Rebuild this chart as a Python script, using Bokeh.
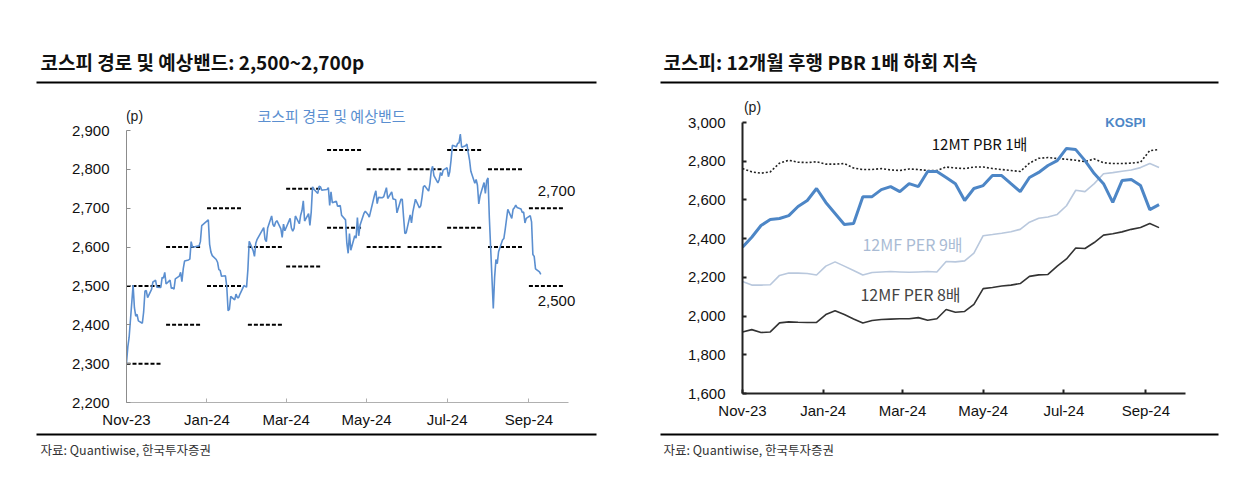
import pandas as pd
from bokeh.plotting import figure
from bokeh.models import (Label, FixedTicker, NumeralTickFormatter,
                          DatetimeTickFormatter, Range1d, ColumnDataSource)
from bokeh.core.properties import value
from bokeh.layouts import row, column
from bokeh.embed import file_html
from bokeh.resources import INLINE

# ---------------- data: left chart (daily KOSPI) ----------------
kospi_days = {
    "2023-11": [1, 2, 3, 6, 7, 8, 9, 10, 13, 14, 15, 16, 17, 20, 21, 22, 23, 24, 27, 28, 29, 30],
    "2023-12": [1, 4, 5, 6, 7, 8, 11, 12, 13, 14, 15, 18, 19, 20, 21, 22, 26, 27, 28],
    "2024-01": [2, 3, 4, 5, 8, 9, 10, 11, 12, 15, 16, 17, 18, 19, 22, 23, 24, 25, 26, 29, 30, 31],
    "2024-02": [1, 2, 5, 6, 7, 8, 13, 14, 15, 16, 19, 20, 21, 22, 23, 26, 27, 28, 29],
    "2024-03": [4, 5, 6, 7, 8, 11, 12, 13, 14, 15, 18, 19, 20, 21, 22, 25, 26, 27, 28, 29],
    "2024-04": [1, 2, 3, 4, 5, 8, 9, 11, 12, 15, 16, 17, 18, 19, 22, 23, 24, 25, 26, 29, 30],
    "2024-05": [2, 3, 7, 8, 9, 10, 13, 14, 16, 17, 20, 21, 22, 23, 24, 27, 28, 29, 30, 31],
    "2024-06": [3, 4, 5, 7, 10, 11, 12, 13, 14, 17, 18, 19, 20, 21, 24, 25, 26, 27, 28],
    "2024-07": [1, 2, 3, 4, 5, 8, 9, 10, 11, 12, 15, 16, 17, 18, 19, 22, 23, 24, 25, 26, 29, 30, 31],
    "2024-08": [1, 2, 5, 6, 7, 8, 9, 12, 13, 14, 16, 19, 20, 21, 22, 23, 26, 27, 28, 29, 30],
    "2024-09": [2, 3, 4, 5, 6, 9, 10],
}
kospi_close = {
    "2023-11": [2302, 2343, 2368, 2502, 2444, 2422, 2427, 2410, 2404, 2433, 2487, 2488, 2470, 2491, 2510, 2512, 2515, 2497, 2496, 2522, 2520, 2535],
    "2023-12": [2505, 2515, 2494, 2495, 2492, 2518, 2525, 2535, 2511, 2544, 2564, 2567, 2569, 2614, 2600, 2600, 2603, 2614, 2655],
    "2024-01": [2670, 2607, 2587, 2578, 2568, 2561, 2542, 2540, 2525, 2526, 2498, 2436, 2440, 2473, 2464, 2479, 2470, 2470, 2479, 2501, 2499, 2497],
    "2024-02": [2542, 2615, 2591, 2576, 2610, 2620, 2650, 2620, 2614, 2649, 2680, 2658, 2653, 2664, 2668, 2647, 2625, 2659, 2642],
    "2024-03": [2674, 2649, 2641, 2648, 2680, 2660, 2682, 2694, 2719, 2667, 2686, 2656, 2690, 2755, 2749, 2738, 2757, 2755, 2746, 2747],
    "2024-04": [2748, 2753, 2707, 2742, 2714, 2718, 2705, 2707, 2682, 2670, 2610, 2584, 2635, 2592, 2629, 2623, 2676, 2629, 2656, 2687, 2692],
    "2024-05": [2684, 2677, 2734, 2745, 2712, 2728, 2727, 2730, 2753, 2725, 2742, 2724, 2723, 2722, 2688, 2723, 2723, 2677, 2635, 2637],
    "2024-06": [2683, 2662, 2690, 2723, 2701, 2706, 2728, 2755, 2758, 2744, 2764, 2797, 2808, 2784, 2765, 2774, 2792, 2784, 2798],
    "2024-07": [2804, 2781, 2794, 2824, 2862, 2858, 2867, 2868, 2891, 2857, 2861, 2865, 2843, 2824, 2795, 2764, 2774, 2759, 2711, 2732, 2766, 2738, 2771],
    "2024-08": [2778, 2676, 2442, 2522, 2568, 2557, 2588, 2618, 2622, 2645, 2697, 2674, 2697, 2701, 2708, 2702, 2698, 2689, 2690, 2662, 2674],
    "2024-09": [2681, 2665, 2581, 2576, 2544, 2536, 2530],
}

# expected band per month (start, end, low, high)
band_start = ["2023-11-01", "2023-12-01", "2024-01-01", "2024-02-01", "2024-03-01", "2024-04-01",
              "2024-05-01", "2024-06-01", "2024-07-01", "2024-08-01", "2024-09-01"]
band_end = ["2023-11-28", "2023-12-28", "2024-01-28", "2024-02-28", "2024-03-28", "2024-04-28",
            "2024-05-28", "2024-06-28", "2024-07-28", "2024-08-28", "2024-09-28"]
band_low = [2300, 2400, 2500, 2400, 2550, 2650, 2600, 2600, 2650, 2600, 2500]
band_high = [2500, 2600, 2700, 2600, 2750, 2850, 2800, 2800, 2850, 2800, 2700]

# ---------------- data: right chart (weekly) ----------------
week_start = "2023-11-01"
kospi_w = [2356, 2407, 2468, 2499, 2504, 2519, 2566, 2597, 2659, 2587, 2530, 2473, 2478, 2617, 2617, 2653,
           2669, 2643, 2684, 2669, 2747, 2747, 2716, 2684, 2597, 2659, 2674, 2726, 2726, 2684, 2643, 2716,
           2742, 2778, 2803, 2866, 2860, 2803, 2736, 2684, 2587, 2700, 2705, 2674, 2550, 2576]
pbr1_w = [2762, 2745, 2738, 2745, 2790, 2805, 2795, 2793, 2797, 2785, 2785, 2788, 2765, 2757, 2757, 2762,
          2755, 2752, 2760, 2757, 2752, 2752, 2770, 2765, 2762, 2770, 2770, 2762, 2757, 2752, 2747, 2790,
          2815, 2819, 2814, 2810, 2805, 2798, 2812, 2792, 2788, 2788, 2790, 2795, 2855, 2860]
per9_w = [2178, 2160, 2160, 2162, 2210, 2222, 2222, 2220, 2212, 2258, 2280, 2258, 2235, 2212, 2225, 2228,
          2230, 2228, 2226, 2228, 2230, 2228, 2282, 2280, 2285, 2325, 2415, 2421, 2428, 2436, 2448, 2485,
          2505, 2512, 2525, 2570, 2650, 2643, 2684, 2735, 2741, 2748, 2755, 2767, 2788, 2767]
per8_w = [1918, 1930, 1915, 1918, 1965, 1970, 1968, 1967, 1967, 2008, 2028, 2008, 1985, 1964, 1977, 1982,
          1984, 1986, 1986, 1992, 1978, 1986, 2034, 2020, 2024, 2060, 2142, 2148, 2155, 2160, 2168, 2205,
          2213, 2215, 2258, 2295, 2352, 2349, 2380, 2418, 2425, 2435, 2448, 2458, 2478, 2457]

tick_dates = ["2023-11-01", "2024-01-01", "2024-03-01", "2024-05-01", "2024-07-01", "2024-09-01"]
left_yticks = [2200, 2300, 2400, 2500, 2600, 2700, 2800, 2900]
right_yticks = [1600, 1800, 2000, 2200, 2400, 2600, 2800, 3000]

titles = ["코스피 경로 및 예상밴드: 2,500~2,700p", "코스피: 12개월 후행 PBR 1배 하회 지속"]
source_note = "자료: Quantiwise, 한국투자증권"

# ---------------- helpers ----------------
def ms(d):
    return pd.Timestamp(d).value // 10**6

KR = "Noto Sans CJK KR"
NUM = "Liberation Sans"
x_lo, x_hi = pd.Timestamp("2023-11-01"), pd.Timestamp("2024-10-01")

W_L, W_R = 620, 601          # canvas widths
TOP = 96                     # page y of chart row
ROW_BOTTOM = 30              # bottom border of charts


def lab(p, x, y, text, size, color="#222222", style="normal", font=KR, align="left"):
    p.add_layout(Label(x=x, y=y, x_units="canvas", y_units="canvas", text=text,
                       text_font=font, text_font_size=size, text_color=color,
                       text_font_style=style, text_align=align, text_baseline="middle"))


def style_axes(p, yticks, axis_color, width, xtick_color):
    p.xaxis.ticker = FixedTicker(ticks=[ms(d) for d in tick_dates])
    p.xaxis.formatter = DatetimeTickFormatter(days="%b-%y", months="%b-%y", years="%b-%y")
    p.yaxis.ticker = FixedTicker(ticks=yticks)
    p.yaxis.formatter = NumeralTickFormatter(format="0,0")
    p.yaxis.bounds = (yticks[0], yticks[-1])
    p.xaxis.bounds = (ms(x_lo), ms(x_hi))
    for ax in (p.xaxis, p.yaxis):
        ax.major_tick_in = 4
        ax.major_tick_out = 0
        ax.minor_tick_line_color = None
        ax.major_label_text_font = NUM
        ax.major_label_text_font_size = "15px"
        ax.major_label_text_color = "#111111"
        ax.axis_line_width = width
        ax.major_tick_line_width = width
    p.yaxis.axis_line_color = axis_color
    p.yaxis.major_tick_line_color = axis_color
    p.xaxis.axis_line_color = xtick_color
    p.xaxis.major_tick_line_color = xtick_color
    p.yaxis.major_label_standoff = 17
    p.xaxis.major_label_standoff = 8
    p.xgrid.visible = False
    p.ygrid.visible = False
    p.outline_line_color = None


# ---------------- header strip (titles + rules) ----------------
header = figure(width=W_L + W_R, height=TOP, x_range=Range1d(0, W_L + W_R), y_range=Range1d(TOP, 0),
                output_backend="svg", toolbar_location=None, min_border=0)
header.axis.visible = False
header.grid.visible = False
header.outline_line_color = None
header.text(x=[40, 663], y=[61, 61], text=titles, text_font=value(KR), text_font_size="19px",
            text_font_style="bold", text_color="#111111", text_baseline="middle")
header.segment(x0=[36, 660], x1=[596, 1218], y0=[82, 82], y1=[82, 82], line_color="black", line_width=2)

# ---------------- left chart ----------------
dates, closes = [], []
for m in kospi_days:
    dates += [pd.Timestamp(f"{m}-{d:02d}") for d in kospi_days[m]]
    closes += kospi_close[m]

L_frame_w, L_axis_w = 474, 442
L_frame_h, L_axis_h = 306, 272
left_x_end = x_lo + (x_hi - x_lo) * L_frame_w / L_axis_w
left_y_end = left_yticks[0] + (left_yticks[-1] - left_yticks[0]) * L_frame_h / L_axis_h

left = figure(width=W_L, height=L_frame_h + ROW_BOTTOM, x_axis_type="datetime",
              x_range=Range1d(ms(x_lo), ms(left_x_end)), y_range=Range1d(left_yticks[0], left_y_end),
              output_backend="svg", toolbar_location=None,
              min_border_left=126, min_border_right=W_L - 126 - L_frame_w,
              min_border_top=0, min_border_bottom=ROW_BOTTOM)
style_axes(left, left_yticks, "#8c8c8c", 1, "#b0b0b0")

band_src = ColumnDataSource(dict(x0=pd.to_datetime(band_start), x1=pd.to_datetime(band_end),
                                 lo=band_low, hi=band_high))
left.segment(x0="x0", x1="x1", y0="lo", y1="lo", source=band_src,
             line_color="black", line_width=2, line_dash="4 2")
left.segment(x0="x0", x1="x1", y0="hi", y1="hi", source=band_src,
             line_color="black", line_width=2, line_dash="4 2")
left.line(dates, closes, line_color="#5b8fd0", line_width=1.6)

lab(left, 134, 19, "(p)", "14px", "#222222", font=NUM, align="center")
lab(left, 331, 19, "코스피 경로 및 예상밴드", "15px", "#5b8fd0", align="center")
lab(left, 556, 94, "2,700", "15px", "#111111", font=NUM, align="center")
lab(left, 556, 204, "2,500", "15px", "#111111", font=NUM, align="center")

# ---------------- right chart ----------------
wdates = pd.date_range(week_start, periods=len(kospi_w), freq="7D")
R_frame_h, R_axis_h = 297, 271
right_y_end = right_yticks[0] + (right_yticks[-1] - right_yticks[0]) * R_frame_h / R_axis_h
right = figure(width=W_R, height=R_frame_h + ROW_BOTTOM, x_axis_type="datetime",
               x_range=Range1d(ms(x_lo), ms(x_hi)), y_range=Range1d(right_yticks[0], right_y_end),
               output_backend="svg", toolbar_location=None,
               min_border_left=122, min_border_right=36, min_border_top=0, min_border_bottom=ROW_BOTTOM)
style_axes(right, right_yticks, "#222222", 2, "#222222")

right.line(wdates, per9_w, line_color="#b9c8dd", line_width=1.6)
right.line(wdates, per8_w, line_color="#333333", line_width=1.6)
right.line(wdates, pbr1_w, line_color="#222222", line_width=1.6, line_dash="2 2")
right.line(wdates, kospi_w, line_color="#4d86c6", line_width=3)

lab(right, 132, 10, "(p)", "14px", "#222222", font=NUM, align="center")
lab(right, 359, 47, "12MT PBR 1배", "15px", "#111111", align="center")
lab(right, 505, 26, "KOSPI", "13px", "#4d86c6", "bold", font=NUM, align="center")
lab(right, 292, 147, "12MF PER 9배", "16px", "#a9bbd4", align="center")
lab(right, 290, 197, "12MF PER 8배", "16px", "#444444", align="center")

# ---------------- footer strip (rules + source) ----------------
footer = figure(width=W_L + W_R, height=36, x_range=Range1d(0, W_L + W_R), y_range=Range1d(36, 0),
                output_backend="svg", toolbar_location=None, min_border=0)
footer.axis.visible = False
footer.grid.visible = False
footer.outline_line_color = None
footer.segment(x0=[36, 660], x1=[596, 1218], y0=[2, 2], y1=[2, 2], line_color="black", line_width=2)
footer.text(x=[40, 663], y=[17, 17], text=[source_note, source_note], text_font=value(KR),
            text_font_size="12.5px", text_color="#333333", text_baseline="middle")

page = column(header, row(left, right), footer)
open("out.html", "w").write(file_html(page, INLINE))
